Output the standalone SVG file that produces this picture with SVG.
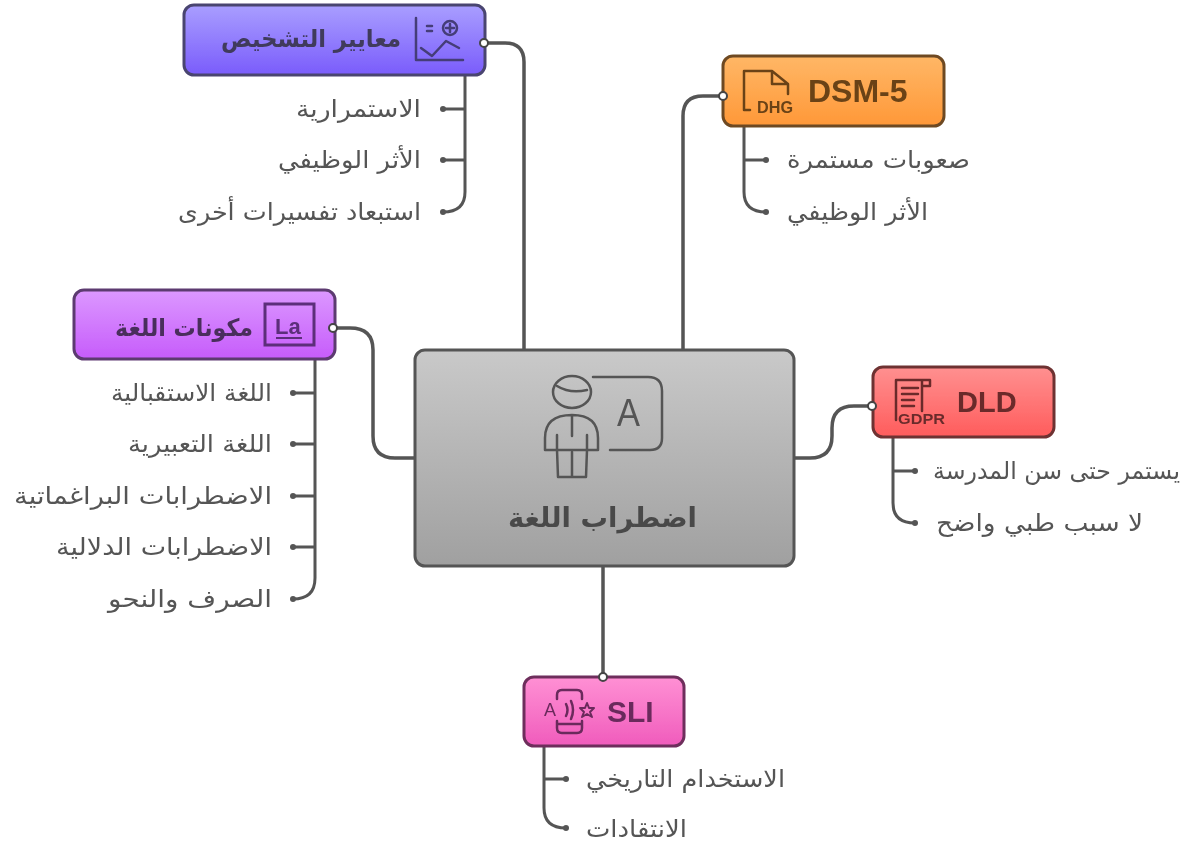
<svg xmlns="http://www.w3.org/2000/svg" width="1200" height="848" viewBox="0 0 1200 848">
<style>
.c{fill:none;stroke:#555;stroke-width:3;stroke-linecap:round}
.b{fill:none;stroke:#555;stroke-width:3.5}
.d{fill:#555}
.p{fill:#fff;stroke:#444;stroke-width:2}
.t{font-family:"DejaVu Sans","Noto Sans",sans-serif;font-size:24px;fill:#555;text-anchor:end}
.n{font-family:"DejaVu Sans","Noto Sans",sans-serif;font-size:24px;font-weight:bold;text-anchor:end}
.l{font-family:"Liberation Sans",Arial,sans-serif;font-weight:bold}
.i{fill:none;stroke-width:2.5;stroke-linecap:round;stroke-linejoin:round}
</style>
<defs>
<linearGradient id="g0" x1="0" y1="0" x2="0" y2="1"><stop offset="0" stop-color="#c9c9c9"/><stop offset="1" stop-color="#a0a0a0"/></linearGradient>
<linearGradient id="g1" x1="0" y1="0" x2="0" y2="1"><stop offset="0" stop-color="#a99eff"/><stop offset="1" stop-color="#7a5cfb"/></linearGradient>
<linearGradient id="g2" x1="0" y1="0" x2="0" y2="1"><stop offset="0" stop-color="#ffb766"/><stop offset="1" stop-color="#ff9838"/></linearGradient>
<linearGradient id="g3" x1="0" y1="0" x2="0" y2="1"><stop offset="0" stop-color="#dc98ff"/><stop offset="1" stop-color="#c65cfb"/></linearGradient>
<linearGradient id="g4" x1="0" y1="0" x2="0" y2="1"><stop offset="0" stop-color="#ff9090"/><stop offset="1" stop-color="#ff5c5c"/></linearGradient>
<linearGradient id="g5" x1="0" y1="0" x2="0" y2="1"><stop offset="0" stop-color="#ff90d4"/><stop offset="1" stop-color="#f05cbc"/></linearGradient>
<filter id="soft" filterUnits="userSpaceOnUse" x="0" y="0" width="1200" height="848"><feGaussianBlur stdDeviation="0.7"/></filter>
</defs>
<g filter="url(#soft)">
<g id="connectors">
<path class="b" d="M484 43H505Q524 43 524 62V350"/>
<path class="b" d="M723 96H703Q683 96 683 116V350"/>
<path class="b" d="M335 328H350Q373 328 373 350V436Q373 458 395 458H414"/>
<path class="b" d="M794 458H810Q832 458 832 436V428Q832 406 854 406H872"/>
<path class="b" d="M603 566V677"/>
<path class="c" d="M465 75V192Q465 212 443 212M465 109H443M465 160H443"/>
<path class="c" d="M744 127V192Q744 212 766 212M744 160H766"/>
<path class="c" d="M315 359V578Q315 599 293 599M315 393H293M315 444H293M315 496H293M315 547H293"/>
<path class="c" d="M893 437V503Q893 523 915 523M893 471H915"/>
<path class="c" d="M544 746V808Q544 828 566 828M544 779H566"/>
<g class="d"><circle cx="443" cy="109" r="3"/><circle cx="443" cy="160" r="3"/><circle cx="443" cy="212" r="3"/><circle cx="766" cy="160" r="3"/><circle cx="766" cy="212" r="3"/><circle cx="293" cy="393" r="3"/><circle cx="293" cy="444" r="3"/><circle cx="293" cy="496" r="3"/><circle cx="293" cy="547" r="3"/><circle cx="293" cy="599" r="3"/><circle cx="915" cy="471" r="3"/><circle cx="915" cy="523" r="3"/><circle cx="566" cy="779" r="3"/><circle cx="566" cy="828" r="3"/></g>
</g>
<g id="center">
<rect x="415" y="350" width="379" height="216" rx="10" fill="url(#g0)" stroke="#555" stroke-width="3"/>
<g class="i" stroke="#555">
<ellipse cx="572" cy="392" rx="19" ry="16"/>
<path d="M557 386Q570 394 587 390M545 450V438Q545 415 572 415Q598 415 598 438V450ZM557 435V450M587 435V450M557 450L558 477H586L587 450M572 452V477M572 415V436M593 377H648Q662 377 662 391V438Q662 450 650 450H610"/>
</g>
<text class="l" x="617" y="426" font-size="38" textLength="23" lengthAdjust="spacingAndGlyphs" style="font-weight:normal" fill="#555">A</text>
<text class="n" x="697" y="527" style="font-size:27px" fill="#4a4a4a" textLength="189" lengthAdjust="spacingAndGlyphs">اضطراب اللغة</text>
</g>
<g id="node-criteria">
<rect x="184" y="5" width="301" height="70" rx="10" fill="url(#g1)" stroke="#4a4470" stroke-width="3"/>
<g class="i" stroke="#453d78">
<path d="M416 18V60H463M427 26H432M427 31H432M421 48L432 56L446 41L459 48"/>
<circle cx="450" cy="28" r="7"/><path d="M450 24V32M446 28H454"/>
</g>
<text class="n" x="401" y="47" fill="#3f3a5c" textLength="180" lengthAdjust="spacingAndGlyphs">معايير التشخيص</text>
<circle class="p" cx="484" cy="43" r="4"/>
</g>
<g id="items-criteria">
<text class="t" x="421" y="117" textLength="125" lengthAdjust="spacingAndGlyphs">الاستمرارية</text>
<text class="t" x="421" y="168" textLength="143" lengthAdjust="spacingAndGlyphs">الأثر الوظيفي</text>
<text class="t" x="421" y="220" textLength="243" lengthAdjust="spacingAndGlyphs">استبعاد تفسيرات أخرى</text>
</g>
<g id="node-dsm">
<rect x="723" y="56" width="221" height="70" rx="10" fill="url(#g2)" stroke="#6e4a24" stroke-width="3"/>
<path class="i" stroke="#6b4318" d="M750 110H744V71H772L788 84V94M772 71V84H788"/>
<text class="l" x="757" y="113" font-size="16" textLength="36" lengthAdjust="spacingAndGlyphs" fill="#6b4318">DHG</text>
<text class="l" x="808" y="102" font-size="32" fill="#6b4318">DSM-5</text>
<circle class="p" cx="723" cy="96" r="4"/>
</g>
<g id="items-dsm">
<text class="t" x="970" y="168" textLength="183" lengthAdjust="spacingAndGlyphs">صعوبات مستمرة</text>
<text class="t" x="928" y="220" textLength="141" lengthAdjust="spacingAndGlyphs">الأثر الوظيفي</text>
</g>
<g id="node-components">
<rect x="74" y="290" width="261" height="69" rx="10" fill="url(#g3)" stroke="#5c3a70" stroke-width="3"/>
<rect x="265" y="304" width="49" height="41" fill="none" stroke="#5c2f7a" stroke-width="3"/>
<text class="l" x="275" y="334" font-size="22" fill="#5c2f7a">La</text>
<path d="M276 338H302" stroke="#5c2f7a" stroke-width="2"/>
<text class="n" x="253" y="336" fill="#4a2f5c" textLength="138" lengthAdjust="spacingAndGlyphs">مكونات اللغة</text>
<circle class="p" cx="333" cy="328" r="4"/>
</g>
<g id="items-components">
<text class="t" x="272" y="401" textLength="161" lengthAdjust="spacingAndGlyphs">اللغة الاستقبالية</text>
<text class="t" x="272" y="452" textLength="144" lengthAdjust="spacingAndGlyphs">اللغة التعبيرية</text>
<text class="t" x="272" y="504" textLength="258" lengthAdjust="spacingAndGlyphs">الاضطرابات البراغماتية</text>
<text class="t" x="272" y="555" textLength="216" lengthAdjust="spacingAndGlyphs">الاضطرابات الدلالية</text>
<text class="t" x="272" y="607" textLength="164" lengthAdjust="spacingAndGlyphs">الصرف والنحو</text>
</g>
<g id="node-dld">
<rect x="873" y="367" width="181" height="70" rx="10" fill="url(#g4)" stroke="#6e3232" stroke-width="3"/>
<path class="i" stroke="#6b2c2c" d="M896 420V380H930M922 380V411M902 388H918M902 394H918M902 400H914M902 406H914M930 380V386H922"/>
<text class="l" x="898" y="424" font-size="14" textLength="47" lengthAdjust="spacingAndGlyphs" fill="#6b2c2c">GDPR</text>
<text class="l" x="957" y="412" font-size="29" fill="#6b2c2c">DLD</text>
<circle class="p" cx="872" cy="406" r="4"/>
</g>
<g id="items-dld">
<text class="t" x="1180" y="479" textLength="247" lengthAdjust="spacingAndGlyphs">يستمر حتى سن المدرسة</text>
<text class="t" x="1143" y="531" textLength="207" lengthAdjust="spacingAndGlyphs">لا سبب طبي واضح</text>
</g>
<g id="node-sli">
<rect x="524" y="677" width="160" height="69" rx="10" fill="url(#g5)" stroke="#6e2f5c" stroke-width="3"/>
<g class="i" stroke="#6b2a5c">
<path d="M557 699V695Q557 690 562 690H577Q582 690 582 695V699M557 721V728Q557 733 562 733H577Q582 733 582 728V721M558 724H581"/>
<path d="M566 704Q569 710 566 716M571 701Q575 710 571 719"/>
<path d="M587 703L589 708H594L590 712L592 717L587 714L582 717L584 712L580 708H585Z" stroke-width="2"/>
</g>
<text class="l" x="544" y="716" font-size="18" style="font-weight:normal" fill="#6b2a5c">A</text>
<text class="l" x="607" y="722" font-size="30" fill="#6b2a5c">SLI</text>
<circle class="p" cx="603" cy="677" r="4"/>
</g>
<g id="items-sli">
<text class="t" x="785" y="787" textLength="199" lengthAdjust="spacingAndGlyphs">الاستخدام التاريخي</text>
<text class="t" x="687" y="837" textLength="101" lengthAdjust="spacingAndGlyphs">الانتقادات</text>
</g>
</g>
</svg>
